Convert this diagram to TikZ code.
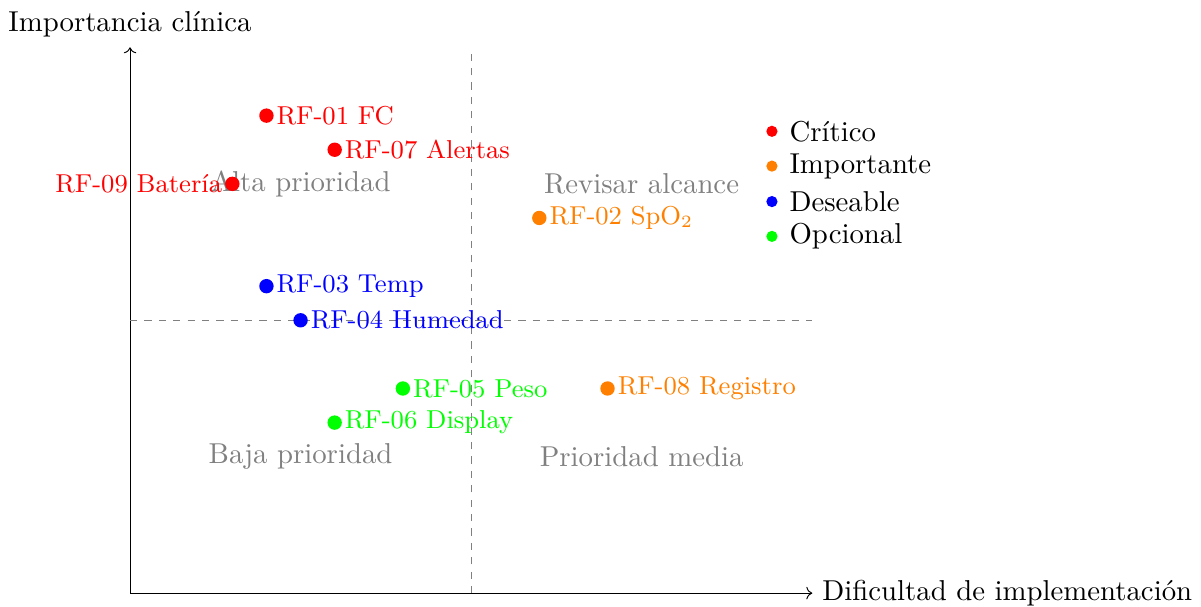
\documentclass[tikz,border=0pt]{standalone}
\usetikzlibrary{arrows.meta}
\definecolor{critico}{RGB}{255,0,0}
\definecolor{importante}{RGB}{255,128,0}
\definecolor{deseable}{RGB}{0,0,255}
\definecolor{opcional}{RGB}{0,255,0}
\tikzset{
  axisline/.style={->, black},
  divider/.style={gray, dashed},
  quadrant/.style={text=gray},
  reqdot/.style={circle, fill=#1, inner sep=0pt, minimum size=5pt},
  reqlabel/.style={text=#1, font=\small},
  legenddot/.style={circle, fill=#1, inner sep=0pt, minimum size=3.9pt},
}
\begin{document}
% grid of 1cm per unit, text enlarged by 1.2
\begin{tikzpicture}[x=0.833333cm, y=0.833333cm, scale=1.2,
    every node/.append style={transform shape}]
  \useasboundingbox (-1.906,-0.19) rectangle (15.70,8.695);

  % axes
  \coordinate (o) at (0,0);
  \coordinate (xend) at (10,0);
  \coordinate (yend) at (0,8);
  \draw[axisline] (o) -- (xend) node[right, text=black] (xlab) {Dificultad de implementación};
  \draw[axisline] (o) -- (yend) node[above, text=black] (ylab) {Importancia clínica};

  % quadrant dividers
  \coordinate (vb) at (5,0);
  \coordinate (vt) at (5,8);
  \coordinate (hl) at (0,4);
  \coordinate (hr) at (10,4);
  \draw[divider] (vb) -- (vt);
  \draw[divider] (hl) -- (hr);

  % quadrant names
  \node[quadrant] (qa) at (2.5,6) {Alta prioridad};
  \node[quadrant] (qr) at (7.5,6) {Revisar alcance};
  \node[quadrant] (qb) at (2.5,2) {Baja prioridad};
  \node[quadrant] (qm) at (7.5,2) {Prioridad media};

  % requirements
  \node[reqdot=critico] (p01) at (2,7) {};
  \node[right, reqlabel=critico] (l01) at (p01.center) {RF-01 FC};
  \node[reqdot=critico] (p07) at (3,6.5) {};
  \node[right, reqlabel=critico] (l07) at (p07.center) {RF-07 Alertas};
  \node[reqdot=critico] (p09) at (1.5,6) {};
  \node[left, reqlabel=critico] (l09) at (p09.center) {RF-09 Batería};
  \node[reqdot=importante] (p02) at (6,5.5) {};
  \node[right, reqlabel=importante] (l02) at (p02.center) {RF-02 SpO$_2$};
  \node[reqdot=deseable] (p03) at (2,4.5) {};
  \node[right, reqlabel=deseable] (l03) at (p03.center) {RF-03 Temp};
  \node[reqdot=deseable] (p04) at (2.5,4) {};
  \node[right, reqlabel=deseable] (l04) at (p04.center) {RF-04 Humedad};
  \node[reqdot=opcional] (p05) at (4,3) {};
  \node[right, reqlabel=opcional] (l05) at (p05.center) {RF-05 Peso};
  \node[reqdot=opcional] (p06) at (3,2.5) {};
  \node[right, reqlabel=opcional] (l06) at (p06.center) {RF-06 Display};
  \node[reqdot=importante] (p08) at (7,3) {};
  \node[right, reqlabel=importante] (l08) at (p08.center) {RF-08 Registro};

  % legend
  \node[legenddot=critico] (k1) at (9.41,6.77) {};
  \node[right] (t1) at (9.52,6.77) {Crítico};
  \node[legenddot=importante] (k2) at (9.41,6.26) {};
  \node[right] (t2) at (9.52,6.26) {Importante};
  \node[legenddot=deseable] (k3) at (9.41,5.74) {};
  \node[right] (t3) at (9.52,5.74) {Deseable};
  \node[legenddot=opcional] (k4) at (9.41,5.23) {};
  \node[right] (t4) at (9.52,5.23) {Opcional};
\end{tikzpicture}
\end{document}
